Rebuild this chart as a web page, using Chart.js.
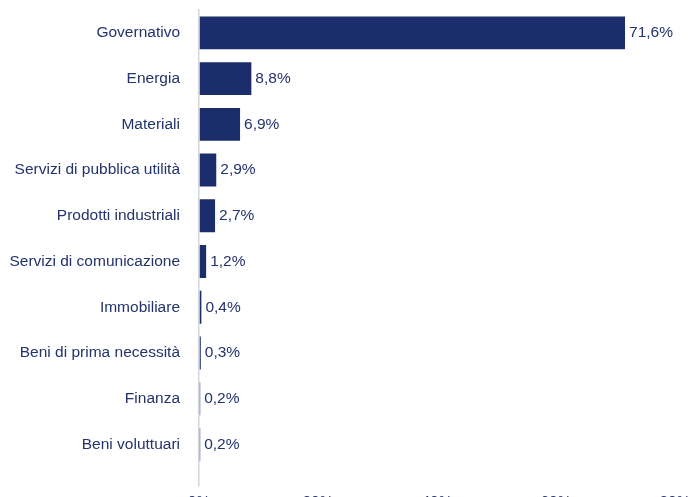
<!DOCTYPE html>
<html>
<head>
<meta charset="utf-8">
<script src="https://cdn.jsdelivr.net/npm/chart.js@4.4.1/dist/chart.umd.min.js"></script>
<style>
  html, body { margin: 0; padding: 0; background: #fff; overflow: hidden; }
  canvas { display: block; }
</style>
</head>
<body>
<canvas id="chart" width="692" height="517"></canvas>
<script>
// Sector breakdown
const sectors = [
    'Governativo',
    'Energia',
    'Materiali',
    'Servizi di pubblica utilità',
    'Prodotti industriali',
    'Servizi di comunicazione',
    'Immobiliare',
    'Beni di prima necessità',
    'Finanza',
    'Beni voluttuari'
];
const weights = [71.6, 8.8, 6.9, 2.9, 2.7, 1.2, 0.4, 0.3, 0.2, 0.2];
const xTicks = [0, 20, 40, 60, 80];

const NAVY = '#1b2d6a';
const TEXT = '#23336b';
const AXIS = '#d3d6da';
const FONT = { family: 'Liberation Sans, Arial, sans-serif', size: 15.5 };

const fmt = v => v.toFixed(1).replace('.', ',') + '%';

// value labels at the end of each bar
const barLabels = {
    id: 'barLabels',
    afterDatasetsDraw(chart) {
        const ctx = chart.ctx;
        const meta = chart.getDatasetMeta(0);
        ctx.save();
        ctx.font = `${FONT.size}px ${FONT.family}`;
        ctx.fillStyle = TEXT;
        ctx.textAlign = 'left';
        ctx.textBaseline = 'middle';
        meta.data.forEach((bar, i) => {
            ctx.fillText(fmt(weights[i]), bar.x + 4, bar.y);
        });
        ctx.restore();
    }
};

new Chart(document.getElementById('chart'), {
    type: 'bar',
    data: {
        labels: sectors,
        datasets: [{
            data: weights,
            backgroundColor: NAVY,
            barPercentage: 0.8,
            categoryPercentage: 0.9
        }]
    },
    options: {
        indexAxis: 'y',
        responsive: false,
        animation: false,
        layout: { padding: { top: 10, right: 17, left: 0, bottom: 0 } },
        plugins: {
            legend: { display: false },
            tooltip: { enabled: false }
        },
        scales: {
            x: {
                min: 0,
                max: 80,
                afterBuildTicks: scale => {
                    scale.ticks = xTicks.map(v => ({ value: v }));
                },
                afterFit: scale => {
                    scale.paddingLeft = 0;
                    scale.paddingRight = 0;
                },
                grid: {
                    drawOnChartArea: false,
                    drawTicks: true,
                    tickLength: 19,
                    color: ctx => ctx.index === 0 ? AXIS : 'rgba(0,0,0,0)',
                    lineWidth: 1.5
                },
                border: { display: false },
                ticks: {
                    color: TEXT,
                    font: FONT,
                    padding: 6,
                    maxRotation: 0,
                    callback: v => v + '%'
                }
            },
            y: {
                afterFit: scale => {
                    scale.width = 199;
                    scale.paddingTop = 0;
                    scale.paddingBottom = 0;
                },
                grid: { display: false, drawTicks: false },
                border: { display: true, color: AXIS, width: 1.5 },
                ticks: {
                    color: TEXT,
                    font: FONT,
                    padding: 19
                }
            }
        }
    },
    plugins: [barLabels]
});
</script>
</body>
</html>
